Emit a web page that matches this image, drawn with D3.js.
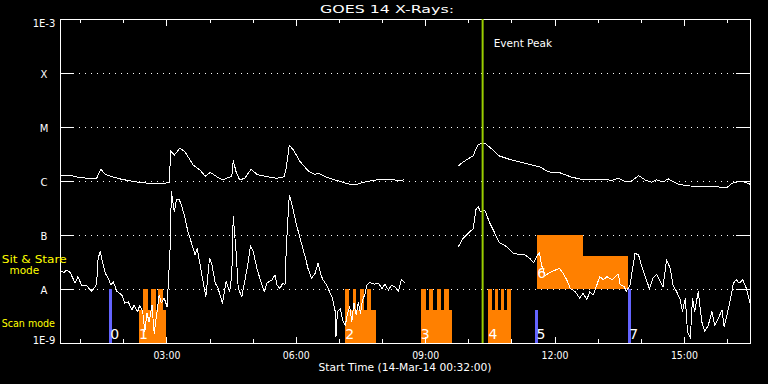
<!DOCTYPE html>
<html><head><meta charset="utf-8">
<script src="https://cdn.jsdelivr.net/npm/d3@7"></script>
<style>html,body{margin:0;padding:0;background:#000;}svg{display:block;}text{font-family:"DejaVu Sans",sans-serif;}</style>
</head><body><svg id="c" width="768" height="384"></svg>
<script>
// ---- data ----
const startTime = "2014-03-14T00:32:00Z";
const spanMinutes = 960;
const levelFlux = [1e-9, 1e-8, 1e-7, 1e-6, 1e-5, 1e-4, 1e-3];
const levelLabels = ["1E-9", "A", "B", "C", "M", "X", "1E-3"];
const eventPeak = "2014-03-14T10:20:00Z";

// GOES long channel (1-8 A): minutes after start, log10 flux (W/m^2); null = data gap
const longMin = [0,14,21,37,51,57,63,70,83,102,121,139,152,154,159,167,174,185,195,202,209,218,227,234,239,241,245,250,257,266,274,288,302,312,315,319,325,334,345,355,359,371,385,403,413,427,445,464,475,479,
  516,
  554,563,575,578,582,591,601,610,628,647,668,679,696,712,730,758,768,777,786,795,805,814,823,830,839,846,860,874,897,916,928,935,944,953,960];
const longLog = [-5.89,-5.89,-5.92,-5.95,-5.95,-5.78,-5.88,-5.91,-5.96,-6.01,-6.04,-6.05,-6.03,-5.44,-5.52,-5.39,-5.46,-5.70,-5.80,-5.91,-5.84,-5.92,-5.98,-5.93,-5.92,-5.62,-5.83,-5.98,-5.95,-5.78,-5.88,-5.92,-5.95,-5.92,-5.74,-5.34,-5.43,-5.64,-5.81,-5.88,-5.85,-5.93,-5.99,-6.06,-6.06,-6.01,-5.97,-5.98,-5.99,-5.97,
  null,
  -5.72,-5.63,-5.53,-5.43,-5.32,-5.30,-5.41,-5.53,-5.61,-5.67,-5.74,-5.83,-5.85,-5.93,-5.98,-5.97,-5.99,-5.95,-6.01,-6.00,-5.90,-5.98,-6.02,-5.98,-6.02,-5.96,-6.06,-6.09,-6.11,-6.11,-6.12,-6.04,-6.01,-6.02,-6.06];

// GOES short channel (0.5-4 A)
const shortMin = [0,6,9,14,21,25,30,37,44,49,51,53,56,59,63,67,71,74,79,86,90,95,100,103,108,111,115,118,121,124,128,131,135,138,141,145,149,153,155,159,162,166,169,174,178,183,188,191,195,199,203,208,211,216,220,226,231,236,239,241,245,248,253,257,262,265,269,274,278,284,288,295,299,302,306,310,313,315,319,320,325,329,334,341,345,350,355,359,363,366,371,375,379,383,384,386,390,393,397,400,403,406,409,412,415,418,421,424,427,431,438,443,448,452,457,461,466,471,475,480,
  516,
  554,561,568,575,579,582,585,591,598,604,611,619,626,631,640,647,654,659,663,667,670,675,682,689,695,700,705,710,717,723,728,733,737,742,746,751,756,761,768,774,777,779,785,788,793,800,805,809,815,820,825,830,835,839,844,849,853,858,863,866,870,873,877,880,883,888,893,897,902,907,911,916,921,924,928,932,937,941,945,950,955,960];
const shortLog = [-7.67,-7.69,-7.65,-7.69,-7.89,-7.77,-7.93,-7.94,-8.04,-7.96,-7.89,-7.43,-7.31,-7.49,-7.71,-7.80,-7.93,-7.86,-8.04,-8.11,-8.26,-8.24,-8.39,-8.30,-8.42,-8.30,-8.41,-8.79,-8.45,-8.61,-8.30,-8.82,-8.42,-8.11,-8.26,-8.17,-8.33,-7.31,-6.20,-6.57,-6.35,-6.35,-6.44,-6.69,-6.94,-7.15,-7.37,-7.25,-7.56,-7.86,-8.14,-7.43,-7.52,-7.89,-7.99,-8.26,-7.86,-8.05,-7.74,-6.66,-7.31,-7.99,-8.14,-7.86,-7.49,-7.20,-7.31,-7.62,-7.80,-8.05,-7.89,-7.83,-7.74,-7.93,-7.99,-7.89,-7.93,-7.19,-6.26,-6.29,-6.57,-6.81,-7.06,-7.40,-7.62,-7.80,-7.71,-7.52,-7.74,-7.83,-7.93,-8.05,-8.17,-8.42,-8.88,-8.42,-8.36,-8.57,-8.67,-8.45,-8.33,-8.61,-8.26,-8.48,-8.24,-8.45,-8.20,-8.11,-7.93,-7.88,-7.91,-7.89,-7.99,-7.91,-8.02,-7.93,-7.96,-8.04,-7.83,-7.89,
  null,
  -7.22,-7.06,-6.97,-6.88,-6.51,-6.48,-6.57,-6.54,-6.78,-6.94,-7.14,-7.19,-7.28,-7.34,-7.36,-7.37,-7.44,-7.51,-7.40,-7.32,-7.56,-7.75,-7.69,-7.65,-7.62,-7.71,-7.83,-7.99,-8.05,-8.17,-8.08,-8.20,-8.05,-8.11,-7.96,-7.77,-7.83,-7.77,-7.83,-7.75,-7.73,-7.91,-7.96,-8.04,-7.93,-7.34,-7.37,-7.56,-7.80,-7.99,-7.80,-7.73,-7.86,-7.96,-7.46,-7.62,-7.93,-8.05,-8.20,-8.42,-8.17,-8.79,-8.91,-8.17,-8.42,-8.05,-8.61,-8.79,-8.67,-8.42,-8.67,-8.54,-8.39,-8.70,-8.48,-8.24,-7.89,-7.83,-7.89,-7.83,-7.99,-8.26];

// scan-mode observations (minutes after start)
const scanStart = [110, 397, 502, 596];
const scanEnd   = [148, 440, 546, 628];
const scanTowers = [
  [[116,122],[127,134],[137,143]],
  [[397,402],[407,412],[417,423],[427,433]],
  [[502,509],[513,519],[524,530],[534,541]],
  [[596,601],[605,610],[613,618],[622,628]]
];
const scanBaseLog = -8.39, scanTowerLog = -8.0;
// sit & stare observation
const stareStart = 664, stareSplit = 727, stareEnd = 790;
const stareLog1 = -7.0, stareLog2 = -7.39;
// single events (blue markers)
const markerMin = [70, 663, 792];
const markerLog = [-8.0, -8.39, -8.0];
// event number labels
const eventIds = ["0","1","2","3","4","5","6","7"];
const eventMin = [70, 110, 397, 502, 596, 663, 664, 792];
const eventMode = ["scan","scan","scan","scan","scan","scan","stare","scan"];

// ---- drawing ----
const svg = d3.select("#c");
svg.append("rect").attr("width",768).attr("height",384).attr("fill","#000");
const t0 = new Date(startTime);
const tAt = m => new Date(t0.getTime() + m * 60000);
const x = d3.scaleUtc().domain([t0, tAt(spanMinutes)]).range([60, 750]);
const y = d3.scaleLog().domain([1e-9, 1e-3]).range([343, 19]);
const fx = m => x(tAt(m));
const fy = L => y(Math.pow(10, L));
const X0 = 60, X1 = 750, Y0 = 343, Y1 = 19;

// grid (dotted)
const g = svg.append("g").attr("shape-rendering","crispEdges");
levelFlux.slice(1, -1).forEach(v => {
  g.append("line").attr("x1", X0 + 19).attr("x2", X1 - 14).attr("y1", y(v)).attr("y2", y(v))
    .attr("stroke","#fff").attr("stroke-dasharray","1,5");
  g.append("line").attr("x1", X0).attr("x2", X0 + 14).attr("y1", y(v)).attr("y2", y(v)).attr("stroke","#fff");
  g.append("line").attr("x1", X1 - 14).attr("x2", X1).attr("y1", y(v)).attr("y2", y(v)).attr("stroke","#fff");
});

// orange observation blocks
const ob = svg.append("g").attr("fill","#ff8000").attr("shape-rendering","crispEdges");
scanStart.forEach((s, i) => {
  ob.append("rect").attr("x", fx(s)).attr("width", fx(scanEnd[i]) - fx(s))
    .attr("y", fy(scanBaseLog)).attr("height", y(1e-9) - fy(scanBaseLog));
  scanTowers[i].forEach(([a, b]) => {
    ob.append("rect").attr("x", fx(a)).attr("width", fx(b) - fx(a))
      .attr("y", fy(scanTowerLog)).attr("height", fy(scanBaseLog) - fy(scanTowerLog) + 0.5);
  });
});
ob.append("rect").attr("x", fx(stareStart)).attr("width", fx(stareSplit) - fx(stareStart))
  .attr("y", fy(stareLog1)).attr("height", fy(-8) - fy(stareLog1));
ob.append("rect").attr("x", fx(stareSplit)).attr("width", fx(stareEnd) - fx(stareSplit))
  .attr("y", fy(stareLog2)).attr("height", fy(-8) - fy(stareLog2));

// blue markers
markerMin.forEach((m, i) => {
  svg.append("rect").attr("x", fx(m) - 1.5).attr("width", 3)
    .attr("y", fy(markerLog[i])).attr("height", y(1e-9) - fy(markerLog[i]))
    .attr("fill","#6464ff").attr("shape-rendering","crispEdges");
});

// curves
const line = d3.line().defined(d => d[1] !== null).x(d => fx(d[0])).y(d => fy(d[1]));
[[longMin, longLog], [shortMin, shortLog]].forEach(([ms, ls]) => {
  svg.append("path").datum(ms.map((m, i) => [m, ls[i]])).attr("d", line)
    .attr("fill","none").attr("stroke","#fff").attr("stroke-width",1)
    .attr("stroke-linejoin","round").attr("shape-rendering","crispEdges");
});

// frame
svg.append("rect").attr("x", X0).attr("y", Y1).attr("width", X1 - X0).attr("height", Y0 - Y1)
  .attr("fill","none").attr("stroke","#fff").attr("shape-rendering","crispEdges");

// time axes
const minorTicks = x.ticks(d3.utcHour.every(1));
const majorTicks = x.ticks(d3.utcHour.every(3));
function styleAxis(sel){ sel.select(".domain").remove(); sel.selectAll("line").attr("stroke","#fff").attr("shape-rendering","crispEdges"); }
svg.append("g").attr("transform",`translate(0,${Y1})`)
  .call(d3.axisTop(x).tickValues(minorTicks).tickSize(-4).tickFormat("")).call(styleAxis);
svg.append("g").attr("transform",`translate(0,${Y1})`)
  .call(d3.axisTop(x).tickValues(majorTicks).tickSize(-7).tickFormat("")).call(styleAxis);
svg.append("g").attr("transform",`translate(0,${Y0})`)
  .call(d3.axisBottom(x).tickValues(minorTicks).tickSize(-4).tickFormat("")).call(styleAxis);
const bx = svg.append("g").attr("transform",`translate(0,${Y0})`)
  .call(d3.axisBottom(x).tickValues(majorTicks).tickSizeInner(-6).tickSizeOuter(0).tickPadding(9).tickFormat(d3.utcFormat("%H:%M")))
  .call(styleAxis);
bx.selectAll("text").attr("fill","#fff").attr("font-size",10).attr("font-family","DejaVu Sans")
  .attr("textLength",27).attr("lengthAdjust","spacingAndGlyphs");

// y labels
levelFlux.forEach((v, i) => {
  const last = i === levelFlux.length - 1;
  const off = i === 0 ? 1 : (last ? 7.7 : 4.8);
  svg.append("text").attr("x", 44).attr("y", y(v) + off).attr("text-anchor","middle")
    .attr("fill","#fff").attr("font-size",10).text(levelLabels[i]);
});

// event peak line
svg.append("line").attr("x1", x(new Date(eventPeak))).attr("x2", x(new Date(eventPeak)))
  .attr("y1", Y1).attr("y2", Y0).attr("stroke","#99cc00").attr("stroke-width",2);
svg.append("text").attr("x", x(new Date(eventPeak)) + 11).attr("y", 46.5).attr("fill","#fff")
  .attr("font-size",10).attr("textLength",58.5).attr("lengthAdjust","spacingAndGlyphs").text("Event Peak");

// event labels
eventIds.forEach((id, i) => {
  const yy = eventMode[i] === "stare" ? fy(-8) - 11.3 : y(1e-9) - 4;
  svg.append("text").attr("x", fx(eventMin[i])).attr("y", yy).attr("fill","#fff")
    .attr("font-size",14).text(id);
});

// titles
svg.append("text").attr("x", 387).attr("y", 13.3).attr("text-anchor","middle").attr("fill","#fff")
  .attr("font-size",11).attr("textLength",134).attr("lengthAdjust","spacingAndGlyphs").text("GOES 14 X-Rays:");
svg.append("text").attr("x", 405).attr("y", 371).attr("text-anchor","middle").attr("fill","#fff")
  .attr("font-size",10).attr("textLength",173).attr("lengthAdjust","spacingAndGlyphs")
  .text("Start Time (14-Mar-14 00:32:00)");

// mode labels
svg.append("text").attr("x", 1.7).attr("y", 262.7).attr("fill","#ffff00").attr("font-size",10.5)
  .attr("textLength",65).attr("lengthAdjust","spacingAndGlyphs").text("Sit & Stare");
svg.append("text").attr("x", 24.3).attr("y", 274.3).attr("text-anchor","middle").attr("fill","#ffff00")
  .attr("font-size",10.5).text("mode");
svg.append("text").attr("x", 1.7).attr("y", 327.3).attr("fill","#ffff00").attr("font-size",10.5)
  .attr("textLength",53.3).attr("lengthAdjust","spacingAndGlyphs").text("Scan mode");
</script></body></html>
